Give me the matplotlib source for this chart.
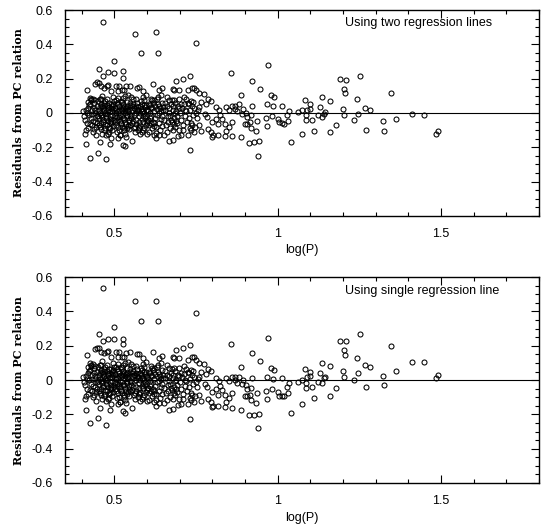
import numpy as np
import matplotlib.pyplot as plt
from matplotlib.ticker import MultipleLocator

# residuals: (log P, two-line fit, single-line fit)
# dense core of short-period stars, x = 0.40 .. 0.76
core_logp = [
    0.405, 0.408, 0.41, 0.412, 0.415, 0.418, 0.42, 0.422, 0.425, 0.427,
    0.43, 0.432, 0.435, 0.437, 0.44, 0.442, 0.444, 0.446, 0.448, 0.45,
    0.413, 0.416, 0.428, 0.433, 0.438, 0.443, 0.447, 0.421, 0.426, 0.439,
    0.452, 0.454, 0.456, 0.458, 0.46, 0.462, 0.464, 0.466, 0.468, 0.47,
    0.472, 0.474, 0.476, 0.478, 0.48, 0.482, 0.484, 0.486, 0.488, 0.49,
    0.492, 0.494, 0.496, 0.498, 0.455, 0.463, 0.471, 0.479, 0.487, 0.495,
    0.459, 0.467, 0.475, 0.483, 0.491, 0.499, 0.461, 0.469, 0.477, 0.485,
    0.493, 0.457, 0.473, 0.489,
    0.501, 0.503, 0.505, 0.507, 0.509, 0.511, 0.513, 0.515, 0.517, 0.519,
    0.521, 0.523, 0.525, 0.527, 0.529, 0.531, 0.533, 0.535, 0.537, 0.539,
    0.541, 0.543, 0.545, 0.547, 0.549, 0.504, 0.508, 0.512, 0.516, 0.52,
    0.524, 0.528, 0.532, 0.536, 0.54, 0.544, 0.548, 0.506, 0.514, 0.522,
    0.53, 0.538, 0.546, 0.51, 0.526, 0.534, 0.518,
    0.551, 0.553, 0.555, 0.557, 0.559, 0.561, 0.563, 0.565, 0.567, 0.569,
    0.571, 0.573, 0.575, 0.577, 0.579, 0.581, 0.583, 0.585, 0.587, 0.589,
    0.591, 0.593, 0.595, 0.597, 0.599, 0.556, 0.562, 0.568, 0.574, 0.58,
    0.586, 0.592, 0.598, 0.558, 0.566, 0.576, 0.584, 0.594,
    0.601, 0.603, 0.605, 0.607, 0.609, 0.611, 0.613, 0.615, 0.617, 0.619,
    0.621, 0.623, 0.625, 0.627, 0.629, 0.631, 0.633, 0.635, 0.637, 0.639,
    0.641, 0.643, 0.645, 0.647, 0.649, 0.606, 0.614, 0.622, 0.63, 0.638,
    0.646, 0.61, 0.626, 0.642,
    0.651, 0.654, 0.657, 0.66, 0.663, 0.666, 0.669, 0.672, 0.675, 0.678,
    0.681, 0.684, 0.687, 0.69, 0.693, 0.696, 0.699, 0.656, 0.662, 0.668,
    0.674, 0.68, 0.686, 0.692, 0.698, 0.665, 0.677, 0.689, 0.671, 0.683,
    0.702, 0.705, 0.708, 0.711, 0.714, 0.717, 0.72, 0.723, 0.726, 0.729,
    0.732, 0.735, 0.738, 0.741, 0.744, 0.747, 0.75, 0.753, 0.756, 0.71,
    0.72, 0.73, 0.74, 0.715,
]
core_two = [
    0.01, -0.02, -0.04, 0.015, -0.06, -0.09, 0.03, -0.01, 0.05, -0.03,
    -0.07, 0.02, -0.11, 0.06, -0.05, 0.0, -0.08, 0.04, -0.02, 0.07,
    -0.1, 0.0, 0.08, -0.045, 0.03, -0.13, -0.06, 0.045, -0.065, 0.075,
    -0.03, 0.02, -0.08, 0.05, -0.01, -0.12, 0.03, -0.05, 0.06, -0.09,
    0.0, -0.03, 0.045, -0.07, 0.02, -0.11, 0.06, -0.02, 0.03, -0.06,
    0.01, -0.1, 0.05, -0.04, 0.08, -0.025, 0.07, -0.045, -0.085, 0.025,
    -0.06, 0.015, -0.015, 0.035, -0.035, 0.07, 0.04, -0.1, 0.08, -0.055,
    -0.01, 0.0, -0.13, 0.055,
    -0.02, 0.03, -0.07, 0.06, -0.04, 0.01, -0.1, 0.04, -0.01, 0.07,
    -0.06, 0.02, -0.03, 0.05, -0.09, 0.0, -0.05, 0.03, -0.02, 0.065,
    -0.075, 0.01, -0.04, 0.045, -0.01, 0.075, -0.11, 0.05, -0.045, 0.025,
    -0.08, 0.035, -0.12, -0.065, 0.04, -0.095, 0.06, 0.0, -0.025, 0.065,
    -0.035, 0.015, -0.055, 0.09, 0.085, -0.14, -0.13,
    -0.03, 0.02, -0.06, 0.05, -0.01, 0.03, -0.08, 0.0, -0.04, 0.06,
    -0.1, 0.015, -0.02, 0.04, -0.07, 0.025, -0.035, 0.055, -0.05, 0.01,
    -0.09, 0.035, -0.015, 0.045, -0.06, 0.08, -0.11, 0.02, -0.05, 0.07,
    -0.1, 0.0, 0.02, -0.045, 0.04, -0.085, 0.01, -0.03,
    0.02, -0.04, 0.05, -0.07, 0.0, -0.02, 0.035, -0.09, 0.06, -0.05,
    0.01, -0.03, 0.04, -0.08, 0.025, -0.01, 0.05, -0.06, 0.0, -0.1,
    0.03, -0.035, 0.06, -0.02, 0.015, -0.11, 0.075, -0.06, 0.08, 0.04,
    -0.075, 0.045, -0.115, 0.01,
    -0.04, 0.02, -0.07, 0.04, -0.02, 0.0, -0.09, 0.05, -0.05, 0.02,
    -0.03, 0.06, -0.08, 0.01, -0.06, 0.04, -0.1, 0.06, -0.11, 0.03,
    -0.04, -0.1, 0.0, -0.02, 0.03, -0.055, 0.075, -0.045, -0.015, -0.065,
    0.0, -0.04, 0.03, -0.07, 0.05, -0.02, 0.01, -0.05, 0.06, -0.03,
    0.02, -0.06, 0.04, -0.01, 0.03, -0.08, 0.0, -0.03, 0.02, -0.1,
    0.08, -0.09, 0.065, 0.015,
]
core_single = [
    0.019, -0.011, -0.031, 0.024, -0.051, -0.081, 0.039, -0.001, 0.059, -0.021,
    -0.061, 0.029, -0.101, 0.069, -0.041, 0.009, -0.071, 0.049, -0.011, 0.079,
    -0.091, 0.009, 0.089, -0.036, 0.039, -0.121, -0.051, 0.054, -0.056, 0.084,
    -0.023, 0.027, -0.073, 0.057, -0.003, -0.113, 0.037, -0.043, 0.067, -0.083,
    0.007, -0.023, 0.052, -0.063, 0.027, -0.103, 0.067, -0.013, 0.037, -0.053,
    0.017, -0.093, 0.057, -0.033, 0.087, -0.018, 0.077, -0.038, -0.078, 0.032,
    -0.053, 0.022, -0.008, 0.042, -0.028, 0.077, 0.047, -0.093, 0.087, -0.048,
    -0.003, 0.007, -0.123, 0.062,
    -0.016, 0.034, -0.066, 0.064, -0.036, 0.014, -0.096, 0.044, -0.006, 0.074,
    -0.056, 0.024, -0.026, 0.054, -0.086, 0.004, -0.046, 0.034, -0.016, 0.069,
    -0.071, 0.014, -0.036, 0.049, -0.006, 0.079, -0.106, 0.054, -0.041, 0.029,
    -0.076, 0.039, -0.116, -0.061, 0.044, -0.091, 0.064, 0.004, -0.021, 0.069,
    -0.031, 0.019, -0.051, 0.094, 0.089, -0.136, -0.126,
    -0.028, 0.022, -0.058, 0.052, -0.008, 0.032, -0.078, 0.002, -0.038, 0.062,
    -0.098, 0.017, -0.018, 0.042, -0.068, 0.027, -0.033, 0.057, -0.048, 0.012,
    -0.088, 0.037, -0.013, 0.047, -0.058, 0.082, -0.108, 0.022, -0.048, 0.072,
    -0.098, 0.002, 0.022, -0.043, 0.042, -0.083, 0.012, -0.028,
    0.016, -0.044, 0.046, -0.074, -0.004, -0.024, 0.031, -0.094, 0.056, -0.054,
    0.006, -0.034, 0.036, -0.084, 0.021, -0.014, 0.046, -0.064, -0.004, -0.104,
    0.026, -0.039, 0.056, -0.024, 0.011, -0.114, 0.071, -0.064, 0.076, 0.036,
    -0.079, 0.041, -0.119, 0.006,
    -0.048, 0.012, -0.078, 0.032, -0.028, -0.008, -0.098, 0.042, -0.058, 0.012,
    -0.038, 0.052, -0.088, 0.002, -0.068, 0.032, -0.108, 0.052, -0.118, 0.022,
    -0.048, -0.108, -0.008, -0.028, 0.022, -0.063, 0.067, -0.053, -0.023, -0.073,
    -0.013, -0.053, 0.017, -0.083, 0.037, -0.033, -0.003, -0.063, 0.047, -0.043,
    0.007, -0.073, 0.027, -0.023, 0.017, -0.093, -0.013, -0.043, 0.007, -0.113,
    0.067, -0.103, 0.052, 0.002,
]

# the blackest part of the core, x = 0.43 .. 0.62
inner_logp = [
    0.451, 0.453, 0.457, 0.46, 0.463, 0.466, 0.469, 0.472, 0.476, 0.479,
    0.483, 0.486, 0.49, 0.493, 0.497, 0.502, 0.505, 0.508, 0.512, 0.515,
    0.519, 0.522, 0.526, 0.529, 0.533, 0.537, 0.54, 0.544, 0.547, 0.552,
    0.555, 0.559, 0.563, 0.567, 0.571, 0.575, 0.579, 0.583, 0.588, 0.592,
    0.596, 0.6, 0.604, 0.608, 0.612, 0.616, 0.62, 0.44, 0.436, 0.43,
]
inner_two = [
    -0.015, -0.07, 0.035, -0.095, 0.01, -0.04, 0.045, -0.065, -0.005, 0.03,
    -0.09, 0.01, -0.045, 0.04, -0.075, -0.055, 0.015, -0.025, -0.08, 0.02,
    -0.065, -0.015, 0.03, -0.1, 0.02, -0.085, -0.01, 0.025, -0.07, -0.015,
    0.04, -0.09, 0.025, -0.065, 0.035, -0.08, 0.0, -0.11, -0.02, 0.045,
    -0.07, -0.045, 0.01, -0.03, -0.06, 0.03, -0.075, 0.015, -0.095, -0.005,
]
inner_single = [
    -0.008, -0.063, 0.042, -0.088, 0.017, -0.033, 0.052, -0.058, 0.002, 0.037,
    -0.083, 0.017, -0.038, 0.047, -0.068, -0.051, 0.019, -0.021, -0.076, 0.024,
    -0.061, -0.011, 0.034, -0.096, 0.024, -0.081, -0.006, 0.029, -0.066, -0.013,
    0.042, -0.088, 0.027, -0.063, 0.037, -0.078, 0.002, -0.108, -0.018, 0.047,
    -0.068, -0.049, 0.006, -0.034, -0.064, 0.026, -0.079, 0.024, -0.086, 0.004,
]

# scattered stars around the core, x = 0.40 .. 0.88
spread_logp = [
    0.465, 0.563, 0.626, 0.634, 0.581, 0.749, 0.5, 0.453, 0.417, 0.526,
    0.5, 0.48, 0.465, 0.526, 0.446, 0.442, 0.452, 0.459, 0.467, 0.477,
    0.48, 0.461, 0.459, 0.505, 0.514, 0.534, 0.548, 0.568, 0.575, 0.522,
    0.529, 0.51, 0.488, 0.586, 0.619, 0.637, 0.646, 0.678, 0.683, 0.699,
    0.69, 0.711, 0.731, 0.739, 0.744, 0.749, 0.725, 0.758, 0.643, 0.632,
    0.66, 0.668, 0.597, 0.587, 0.612, 0.622, 0.592, 0.566, 0.551, 0.542,
    0.531, 0.495, 0.434, 0.426, 0.429, 0.419, 0.775, 0.787, 0.796, 0.714,
    0.697, 0.681, 0.734, 0.766, 0.78, 0.76, 0.729, 0.704, 0.678, 0.648,
    0.81, 0.821, 0.841, 0.856, 0.859, 0.869, 0.868, 0.851, 0.876,
    0.409, 0.412, 0.426, 0.449, 0.455, 0.475, 0.487, 0.49, 0.48, 0.526,
    0.532, 0.51, 0.516, 0.554, 0.577, 0.599, 0.62, 0.627, 0.637, 0.653,
    0.668, 0.678, 0.694, 0.704, 0.724, 0.731, 0.734, 0.744, 0.739, 0.76,
    0.765, 0.788, 0.796, 0.802, 0.798, 0.816, 0.839, 0.841, 0.861,
    0.839, 0.861, 0.851, 0.81, 0.823, 0.829, 0.818, 0.8, 0.785, 0.776,
]
spread_two = [
    0.529, 0.463, 0.471, 0.352, 0.348, 0.405, 0.304, 0.259, 0.132, 0.243,
    0.232, 0.237, 0.218, 0.202, 0.179, 0.171, 0.175, 0.156, 0.148, 0.156,
    0.165, 0.101, 0.082, 0.158, 0.156, 0.156, 0.158, 0.148, 0.152, 0.132,
    0.132, 0.128, 0.128, 0.128, 0.167, 0.136, 0.148, 0.142, 0.136, 0.136,
    0.185, 0.197, 0.218, 0.148, 0.148, 0.132, 0.132, 0.117, 0.103, 0.093,
    0.093, 0.078, 0.105, 0.093, 0.082, 0.074, 0.074, 0.082, 0.093, 0.105,
    0.097, 0.093, 0.082, 0.088, 0.074, 0.064, 0.113, 0.082, 0.07, 0.093,
    0.082, 0.078, 0.07, 0.062, 0.054, 0.035, 0.051, 0.054, 0.039, 0.035,
    0.035, 0.016, 0.035, 0.233, 0.043, 0.043, 0.025, 0.019, 0.01,
    -0.121, -0.183, -0.261, -0.232, -0.171, -0.27, -0.183, -0.144, -0.121, -0.185,
    -0.195, -0.144, -0.13, -0.163, -0.125, -0.121, -0.126, -0.146, -0.13, -0.13,
    -0.165, -0.16, -0.136, -0.13, -0.13, -0.216, -0.101, -0.111, -0.072, -0.072,
    -0.107, -0.091, -0.111, -0.13, -0.14, -0.13, -0.136, -0.105, -0.136,
    -0.066, -0.053, -0.082, -0.033, -0.014, -0.033, -0.066, -0.053, -0.023, -0.004,
]
spread_single = [
    0.535, 0.461, 0.463, 0.344, 0.344, 0.389, 0.311, 0.268, 0.146, 0.241,
    0.239, 0.241, 0.226, 0.208, 0.189, 0.181, 0.185, 0.165, 0.156, 0.163,
    0.172, 0.109, 0.09, 0.164, 0.161, 0.16, 0.161, 0.15, 0.153, 0.137,
    0.136, 0.134, 0.135, 0.128, 0.164, 0.131, 0.142, 0.134, 0.128, 0.126,
    0.177, 0.186, 0.206, 0.135, 0.134, 0.118, 0.12, 0.102, 0.097, 0.088,
    0.086, 0.07, 0.104, 0.093, 0.08, 0.07, 0.074, 0.083, 0.095, 0.108,
    0.101, 0.099, 0.093, 0.1, 0.085, 0.076, 0.096, 0.064, 0.051, 0.082,
    0.072, 0.07, 0.057, 0.046, 0.037, 0.02, 0.039, 0.044, 0.031, 0.029,
    0.015, -0.005, 0.013, 0.208, 0.02, 0.019, 0.0, -0.004, -0.015,
    -0.109, -0.172, -0.251, -0.223, -0.162, -0.263, -0.176, -0.137, -0.113, -0.181,
    -0.191, -0.139, -0.125, -0.161, -0.124, -0.121, -0.129, -0.15, -0.135, -0.136,
    -0.172, -0.168, -0.145, -0.14, -0.142, -0.229, -0.114, -0.125, -0.085, -0.087,
    -0.123, -0.109, -0.13, -0.15, -0.159, -0.151, -0.159, -0.128, -0.161,
    -0.089, -0.078, -0.106, -0.053, -0.035, -0.055, -0.087, -0.072, -0.041, -0.021,
]

# long-period stars, x = 0.88 .. 1.5
long_logp = [
    0.971, 0.922, 0.945, 0.98, 0.988, 0.968, 0.986, 1.014, 0.963, 0.968,
    0.983, 1.002, 1.004, 1.012, 1.019, 1.032, 1.034, 1.029, 1.041, 1.063,
    1.075, 1.074, 1.085, 1.09, 1.087, 1.088, 1.1, 1.1, 1.105, 1.111,
    1.124, 1.131, 1.135, 1.136, 1.141, 1.144, 1.16, 1.161, 1.18, 1.192,
    1.208, 1.204, 1.205, 1.2, 1.204, 1.235, 1.243, 1.245, 1.251, 1.266,
    1.27, 1.283, 1.324, 1.327, 1.348, 1.363, 1.411, 1.449, 1.484, 1.492,
    0.887, 0.882, 0.895, 0.892, 0.907, 0.914, 0.9, 0.919, 0.907, 0.887,
    0.912, 0.927, 0.942, 0.94, 0.933, 0.937, 0.92, 0.902, 0.917,
]
long_two = [
    0.278, 0.189, 0.142, 0.107, 0.093, 0.054, 0.039, 0.041, -0.027, -0.076,
    -0.016, -0.033, -0.051, -0.058, -0.062, -0.047, 0.012, -0.01, -0.167, 0.004,
    0.016, -0.125, 0.076, 0.016, -0.01, -0.041, 0.051, 0.025, -0.039, -0.105,
    -0.014, 0.035, 0.091, -0.023, -0.004, 0.006, 0.068, -0.111, -0.07, 0.2,
    0.195, 0.14, 0.115, 0.021, -0.014, -0.043, 0.082, -0.004, 0.218, 0.031,
    -0.097, 0.016, -0.049, -0.103, 0.115, -0.035, -0.004, -0.014, -0.121, -0.105,
    0.107, 0.051, 0.025, -0.004, -0.023, -0.053, -0.066, -0.086, -0.062, -0.14,
    -0.173, -0.171, -0.165, -0.249, -0.105, -0.047, 0.043, 0.0, -0.014,
]
long_single = [
    0.243, 0.158, 0.111, 0.068, 0.058, 0.019, 0.004, 0.01, -0.062, -0.111,
    -0.051, -0.072, -0.091, -0.093, -0.093, -0.074, -0.016, -0.039, -0.193, -0.012,
    0.0, -0.138, 0.066, 0.016, -0.019, -0.047, 0.047, 0.023, -0.043, -0.105,
    -0.01, 0.039, 0.099, -0.019, 0.01, 0.019, 0.084, -0.093, -0.045, 0.228,
    0.228, 0.173, 0.148, 0.053, 0.018, 0.002, 0.126, 0.041, 0.268, 0.086,
    -0.043, 0.078, 0.023, -0.027, 0.198, 0.053, 0.103, 0.107, 0.012, 0.027,
    0.078, 0.02, 0.0, -0.02, -0.053, -0.085, -0.095, -0.118, -0.093, -0.175,
    -0.204, -0.202, -0.198, -0.282, -0.136, -0.078, 0.01, -0.03, -0.046,
]

X_TICKS = [0.5, 1, 1.5]
X_TICKLABELS = ["0.5", "1", "1.5"]
Y_TICKS = [-0.6, -0.4, -0.2, 0, 0.2, 0.4, 0.6]
Y_TICKLABELS = ["-0.6", "-0.4", "-0.2", "0", "0.2", "0.4", "0.6"]

TICK_FONT = "Liberation Sans"


def draw_panel(ax, x, y, note):
    ax.plot(x, y, linestyle="none", marker="o", markersize=3.6,
            markerfacecolor="none", markeredgecolor="black", markeredgewidth=0.75)
    ax.axhline(0, color="black", linewidth=0.8, zorder=0)

    ax.set_xlim(0.35, 1.8)
    ax.set_ylim(-0.6, 0.6)
    ax.set_xticks(X_TICKS)
    ax.set_xticklabels(X_TICKLABELS, family=TICK_FONT, fontsize=9)
    ax.set_yticks(Y_TICKS)
    ax.set_yticklabels(Y_TICKLABELS, family=TICK_FONT, fontsize=9)
    ax.xaxis.set_minor_locator(MultipleLocator(0.1))
    ax.yaxis.set_minor_locator(MultipleLocator(0.05))
    ax.tick_params(which="both", direction="in", top=True, right=True, width=0.8)
    ax.tick_params(which="major", length=6, pad=9)
    ax.tick_params(which="minor", length=3)
    for s in ax.spines.values():
        s.set_linewidth(1.0)

    ax.set_xlabel("log(P)", family=TICK_FONT, fontsize=9, labelpad=3)
    ax.set_ylabel("Residuals from PC relation", family="DejaVu Serif",
                  fontweight="bold", fontsize=8)
    ax.yaxis.set_label_coords(-0.088, 0.5)
    ax.text(0.59, 0.935, note, transform=ax.transAxes, ha="left", va="center",
            family=TICK_FONT, fontsize=9)


def main():
    logp = np.concatenate([core_logp, inner_logp, spread_logp, long_logp])
    resid_two = np.concatenate([core_two, inner_two, spread_two, long_two])
    resid_single = np.concatenate([core_single, inner_single, spread_single, long_single])
    assert len(logp) == len(resid_two) == len(resid_single)

    fig = plt.figure(figsize=(5.41, 5.29), dpi=100)
    ax_top = fig.add_axes([0.121, 0.592, 0.875, 0.389])
    ax_bot = fig.add_axes([0.121, 0.087, 0.875, 0.389])

    draw_panel(ax_top, logp, resid_two, "Using two regression lines")
    draw_panel(ax_bot, logp, resid_single, "Using single regression line")

    fig.savefig("out.png", dpi=100)
    plt.close(fig)


if __name__ == "__main__":
    main()
